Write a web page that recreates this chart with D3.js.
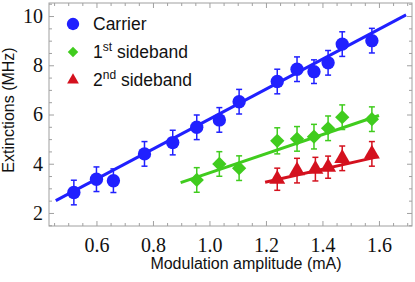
<!DOCTYPE html>
<html>
<head>
<meta charset="utf-8">
<script src="https://d3js.org/d3.v7.min.js"></script>
<style>
  body { margin: 0; background: white; }
  svg { display: block; }
</style>
</head>
<body>
<div id="chart"></div>
<script>
// modulation amplitude (mA) and extinction (MHz)
const carrierX = [0.52, 0.60, 0.66, 0.77, 0.87, 0.955, 1.035, 1.105, 1.24, 1.31, 1.37, 1.42, 1.47, 1.575];
const carrierY = [2.83, 3.37, 3.31, 4.40, 4.86, 5.48, 5.78, 6.52, 7.34, 7.84, 7.74, 8.10, 8.86, 9.00];
const carrierErr = [0.5, 0.5, 0.48, 0.5, 0.5, 0.5, 0.5, 0.5, 0.5, 0.5, 0.48, 0.5, 0.5, 0.5];

const side1X = [0.955, 1.035, 1.105, 1.24, 1.31, 1.37, 1.42, 1.47, 1.575];
const side1Y = [3.34, 3.99, 3.82, 4.93, 5.01, 5.10, 5.44, 5.89, 5.81];
const side1Err = [0.5, 0.5, 0.5, 0.53, 0.5, 0.5, 0.5, 0.5, 0.5];

const side2X = [1.24, 1.31, 1.375, 1.42, 1.47, 1.575];
const side2Y = [3.37, 3.72, 3.78, 3.86, 4.22, 4.40];
const side2Err = [0.45, 0.5, 0.48, 0.45, 0.5, 0.5];

// linear fits: [xStart, yStart, xEnd, yEnd]
const carrierFit = [0.456, 2.50, 1.696, 10.05];
const side1Fit = [0.898, 3.23, 1.60, 5.96];
const side2Fit = [1.197, 3.25, 1.598, 4.29];

const xTicks = [0.6, 0.8, 1.0, 1.2, 1.4, 1.6];
const yTicks = [2, 4, 6, 8, 10];

const W = 415, H = 282;
const svg = d3.select("#chart").append("svg")
  .attr("width", W).attr("height", H);

const x = d3.scaleLinear().domain([0.432, 1.717]).range([49, 412]);
const y = d3.scaleLinear().domain([1.47, 10.53]).range([226, 3]);

const blue = "#2020ff", green = "#40cc1e", red = "#d4111e";
const frameColor = "#a0a0a0";
const serif = "'Liberation Serif', 'Times New Roman', Times, serif";
const sans = "'Liberation Sans', Arial, Helvetica, sans-serif";

// frame
svg.append("rect")
  .attr("x", x.range()[0]).attr("y", y.range()[1])
  .attr("width", x.range()[1] - x.range()[0])
  .attr("height", y.range()[0] - y.range()[1])
  .attr("fill", "none").attr("stroke", frameColor).attr("stroke-width", 1);

// ticks on all four sides, pointing inward
const xMinor = d3.range(0.45, 1.7001, 0.05).filter(v => !xTicks.some(t => Math.abs(t - v) < 1e-6));
const yMinor = d3.range(1.5, 10.5001, 0.5).filter(v => !yTicks.some(t => Math.abs(t - v) < 1e-6));

const axB = d3.axisBottom(x).tickValues(xTicks).tickSize(-5).tickPadding(12).tickFormat(d3.format(".1f"));
const axBm = d3.axisBottom(x).tickValues(xMinor).tickSize(-3).tickFormat("");
const axT = d3.axisTop(x).tickValues(xTicks).tickSize(-5).tickFormat("");
const axTm = d3.axisTop(x).tickValues(xMinor).tickSize(-3).tickFormat("");
const axL = d3.axisLeft(y).tickValues(yTicks).tickSize(-5).tickPadding(6).tickFormat(d3.format("d"));
const axLm = d3.axisLeft(y).tickValues(yMinor).tickSize(-3).tickFormat("");
const axR = d3.axisRight(y).tickValues(yTicks).tickSize(-5).tickFormat("");
const axRm = d3.axisRight(y).tickValues(yMinor).tickSize(-3).tickFormat("");

const bottomY = y.range()[0], topY = y.range()[1];
const leftX = x.range()[0], rightX = x.range()[1];

const axes = [
  [axB, `translate(0,${bottomY})`], [axBm, `translate(0,${bottomY})`],
  [axT, `translate(0,${topY})`], [axTm, `translate(0,${topY})`],
  [axL, `translate(${leftX},0)`], [axLm, `translate(${leftX},0)`],
  [axR, `translate(${rightX},0)`], [axRm, `translate(${rightX},0)`]
];
axes.forEach(([ax, tr]) => {
  const g = svg.append("g").attr("transform", tr).call(ax);
  g.select(".domain").remove();
  g.selectAll(".tick line").attr("stroke", frameColor);
  g.selectAll(".tick text")
    .style("font-family", serif)
    .style("font-size", "20px")
    .style("fill", "#111");
});

// axis titles
svg.append("text")
  .attr("x", 246).attr("y", 269)
  .attr("text-anchor", "middle")
  .style("font-family", sans).style("font-size", "16px").style("fill", "#111")
  .text("Modulation amplitude (mA)");

svg.append("text")
  .attr("transform", "translate(14,110) rotate(-90)")
  .attr("text-anchor", "middle")
  .style("font-family", sans).style("font-size", "16px").style("fill", "#111")
  .text("Extinctions (MHz)");

const plot = svg.append("g");

function fitLine(f, color) {
  plot.append("line")
    .attr("x1", x(f[0])).attr("y1", y(f[1]))
    .attr("x2", x(f[2])).attr("y2", y(f[3]))
    .attr("stroke", color).attr("stroke-width", 3);
}

function series(xs, ys, errs, color, symbol, size) {
  const data = xs.map((v, i) => ({ x: v, y: ys[i], e: errs[i] }));
  const g = plot.append("g");
  const eb = g.selectAll(".eb").data(data).join("g")
    .attr("stroke", color).attr("stroke-width", 1.5);
  eb.append("line")
    .attr("x1", d => x(d.x)).attr("x2", d => x(d.x))
    .attr("y1", d => y(d.y - d.e)).attr("y2", d => y(d.y + d.e));
  eb.append("line")
    .attr("x1", d => x(d.x) - 3).attr("x2", d => x(d.x) + 3)
    .attr("y1", d => y(d.y + d.e)).attr("y2", d => y(d.y + d.e));
  eb.append("line")
    .attr("x1", d => x(d.x) - 3).attr("x2", d => x(d.x) + 3)
    .attr("y1", d => y(d.y - d.e)).attr("y2", d => y(d.y - d.e));
  g.selectAll("path.m").data(data).join("path")
    .attr("class", "m")
    .attr("d", d3.symbol().type(symbol).size(size))
    .attr("transform", d => `translate(${x(d.x)},${y(d.y)})`)
    .attr("fill", color);
}

fitLine(carrierFit, blue);
fitLine(side1Fit, green);
fitLine(side2Fit, red);

series(carrierX, carrierY, carrierErr, blue, d3.symbolCircle, 140);
series(side1X, side1Y, side1Err, green, d3.symbolDiamond2, 130);
series(side2X, side2Y, side2Err, red, d3.symbolTriangle, 110);

// legend
const legend = svg.append("g")
  .style("font-family", sans).style("font-size", "17.5px").style("fill", "#111");
const legendItems = [
  { label: "Carrier", sup: "", rest: "", color: blue, symbol: d3.symbolCircle, size: 120, cy: 24 },
  { label: "1", sup: "st", rest: " sideband", color: green, symbol: d3.symbolDiamond2, size: 70, cy: 52 },
  { label: "2", sup: "nd", rest: " sideband", color: red, symbol: d3.symbolTriangle, size: 60, cy: 80 }
];
legendItems.forEach(it => {
  legend.append("path")
    .attr("d", d3.symbol().type(it.symbol).size(it.size))
    .attr("transform", `translate(73,${it.cy})`)
    .attr("fill", it.color);
  const t = legend.append("text").attr("x", 93).attr("y", it.cy + 6);
  t.append("tspan").text(it.label);
  if (it.sup) {
    t.append("tspan").style("font-size", "12px").attr("dy", -7).text(it.sup);
    t.append("tspan").attr("dy", 7).text(it.rest);
  }
});
</script>
</body>
</html>
